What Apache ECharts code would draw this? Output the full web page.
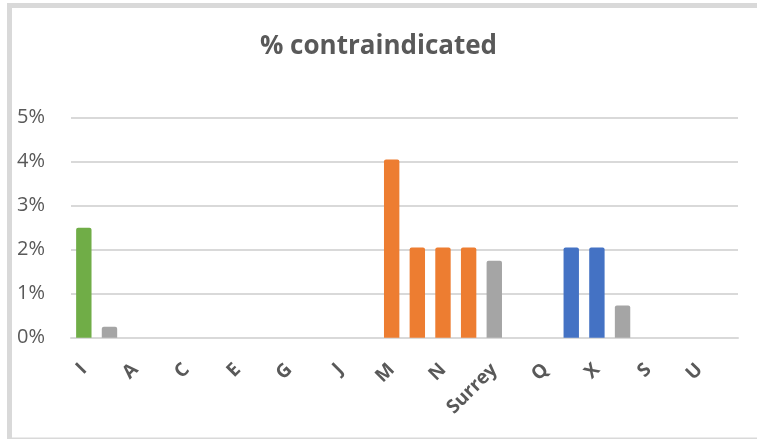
<!DOCTYPE html>
<html>
<head>
<meta charset="utf-8">
<script src="https://cdn.jsdelivr.net/npm/echarts@6/dist/echarts.min.js"></script>
<style>
html,body{margin:0;padding:0;background:#fff;}
#chart{width:757px;height:439px;}
</style>
</head>
<body>
<div id="chart"></div>
<script>
const titleText = '% contraindicated';
const categories = ['I','B','A','D','C','F','E','H','G','K','J','L','M','O','N','P','Surrey','R','Q','W','X','T','S','V','U','Y'];
const greenValues  = [2.5,null,null,null,null,null,null,null,null,null,null,null,null,null,null,null,null,null,null,null,null,null,null,null,null,null];
const grayValues   = [null,0.25,null,null,null,null,null,null,null,null,null,null,null,null,null,null,1.75,null,null,null,null,0.73,null,null,null,null];
const orangeValues = [null,null,null,null,null,null,null,null,null,null,null,null,4.05,2.05,2.05,2.05,null,null,null,null,null,null,null,null,null,null];
const blueValues   = [null,null,null,null,null,null,null,null,null,null,null,null,null,null,null,null,null,null,null,2.05,2.05,null,null,null,null,null];
const yTicks = [0,1,2,3,4,5];

const chart = echarts.init(document.getElementById('chart'), null, {renderer:'canvas'});
const font = '"Open Sans", "Liberation Sans", sans-serif';
function bar(name, data, color){
  return {name, type:'bar', stack:'all', data, barWidth:'60%',
    itemStyle:{color, borderRadius:[2,2,0,0]}};
}
chart.setOption({
  animation:false,
  title:{text:titleText, left:'center', top:29,
    textStyle:{fontFamily:font, fontSize:26, fontWeight:'bold', color:'#595959'}},
  grid:{left:71, right:19, top:117.7, bottom:101.3, containLabel:false},
  xAxis:{type:'category', data:categories,
    axisLine:{lineStyle:{color:'#d9d9d9', width:2}},
    axisTick:{show:false},
    axisLabel:{interval:1, rotate:45, margin:29, fontFamily:font, fontSize:19, fontWeight:'bold', color:'#595959'}},
  yAxis:{type:'value', min:yTicks[0], max:yTicks[yTicks.length-1], interval:1,
    axisLine:{show:false}, axisTick:{show:false},
    splitLine:{lineStyle:{color:'#d9d9d9', width:2}},
    axisLabel:{formatter:'{value}%', margin:26, padding:[5,0,0,0], fontFamily:font, fontSize:20, color:'#595959'}},
  series:[
    bar('green', greenValues, '#70AD47'),
    bar('gray', grayValues, '#A5A5A5'),
    bar('orange', orangeValues, '#ED7D31'),
    bar('blue', blueValues, '#4472C4')
  ],
  graphic:[
    {type:'rect', shape:{x:7, y:3, width:750, height:5}, style:{fill:'#d9d9d9'}, silent:true},
    {type:'rect', shape:{x:7, y:3, width:5, height:436}, style:{fill:'#d9d9d9'}, silent:true},
    {type:'rect', shape:{x:7, y:437.5, width:750, height:1.5}, style:{fill:'#d9d9d9'}, silent:true}
  ]
});
</script>
</body>
</html>
